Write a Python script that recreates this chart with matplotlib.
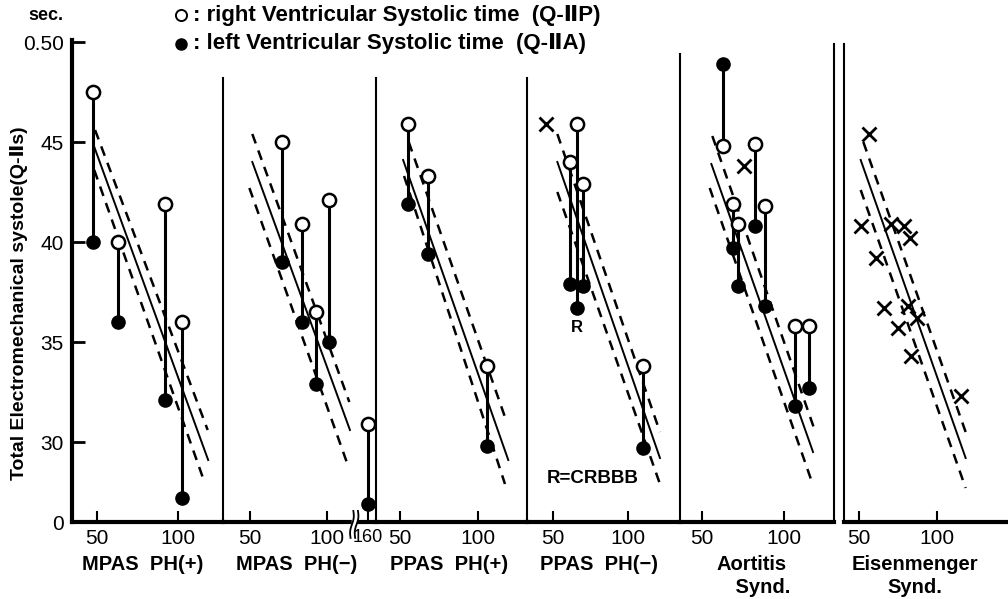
import numpy as np
import matplotlib.pyplot as plt
from matplotlib import transforms, font_manager

W, H = 1008, 599

# ---- values (y in 1/100 sec, x = heart rate) ----
# MPAS PH(+)
mpas_pos_x = [48, 63, 92, 102]
mpas_pos_right = [47.5, 40.0, 41.9, 36.0]
mpas_pos_left = [40.0, 36.0, 32.1, 27.2]
# MPAS PH(-)   (last case at 160, drawn behind the axis break)
mpas_neg_x = [71, 84, 93, 101, 160]
mpas_neg_right = [45.0, 40.9, 36.5, 42.1, 30.9]
mpas_neg_left = [39.0, 36.0, 32.9, 35.0, 26.9]
# PPAS PH(+)
ppas_pos_x = [55, 68, 106]
ppas_pos_right = [45.9, 43.3, 33.8]
ppas_pos_left = [41.9, 39.4, 29.8]
# PPAS PH(-)
ppas_neg_x = [61, 66, 70, 110]
ppas_neg_right = [44.0, 45.9, 42.9, 33.8]
ppas_neg_left = [37.9, 36.7, 37.8, 29.7]
ppas_neg_cross_x = [45]
ppas_neg_cross_y = [45.9]
crbbb_x = 66            # case marked "R"
# Aortitis Synd.
aort_x = [63, 69, 72, 82.5, 88.5, 106.5, 115.5]
aort_right = [44.8, 41.9, 40.9, 44.9, 41.8, 35.8, 35.8]
aort_left = [48.9, 39.7, 37.8, 40.8, 36.8, 31.8, 32.7]
aort_cross_x = [75.5]
aort_cross_y = [43.8]
# Eisenmenger Synd.
eis_x = [56, 51, 70.5, 79, 83, 60.5, 66, 81.5, 87.5, 75, 83.5, 116]
eis_y = [45.4, 40.8, 40.9, 40.8, 40.2, 39.2, 36.7, 36.8, 36.2, 35.7, 34.3, 32.3]

# regression line and its limits, per panel
reg_x = [(48.3, 118.3), (51.5, 114.9), (52, 119.4), (52.7, 121.1), (55.7, 117.7), (50.9, 118.7)]
reg_solid = [(44.8, 29.1), (44.0, 30.6), (44.1, 29.1), (44.0, 29.2), (43.9, 29.5), (44.1, 29.2)]
reg_upper_x = [(49, 118), (51.5, 114.5), (55.6, 118.4), (52.7, 121.1), (56.3, 118.7), (52.6, 118.7)]
reg_upper = [(45.6, 30.6), (45.4, 32.0), (45.0, 31.0), (45.4, 30.5), (45.3, 30.6), (45.0, 30.5)]
reg_lower_x = [(48.5, 116), (49.6, 112.8), (52.6, 117.3), (52.7, 121.1), (54.7, 116.6), (50.9, 118.7)]
reg_lower = [(43.6, 28.0), (42.7, 29.0), (43.3, 27.9), (42.5, 27.9), (42.7, 28.1), (42.6, 27.7)]

group_names = ["MPAS  PH(+)", "MPAS  PH(−)", "PPAS  PH(+)", "PPAS  PH(−)", "Aortitis\n    Synd.", "Eisenmenger\nSynd."]

# ---- layout (pixels of the 1008x599 image) ----
panel_px = [(72, 223, 96.7, 178.3), (223, 376, 250, 327), (376, 527, 400, 478),
            (527, 680, 553.3, 628.3), (680, 834, 702, 784), (844, 1008, 859.3, 936.7)]
sep_top = [48.2, 48.2, 48.2, 49.4, 49.9, 49.9]
label_px = [(143, 564), (297, 564), (449, 564), (599, 564), (752, 576), (915, 576)]
YMIN, YMAX = 26.0, 50.1

installed = {f.name for f in font_manager.fontManager.ttflist}
narrow = ['Liberation Sans Narrow' if 'Liberation Sans Narrow' in installed else 'Liberation Sans',
          'DejaVu Sans']
boldf = ['Liberation Sans', 'DejaVu Sans']


def brk(x):
    # compress the x axis above the break in the MPAS PH(-) panel
    x = np.asarray(x, dtype=float)
    return np.where(x > 130, x - 33.6, x)


def style_ticks(labels, size=15):
    for t in labels:
        t.set_fontfamily(narrow)
        t.set_fontsize(size)
        t.set_fontstretch('condensed')


fig = plt.figure(figsize=(W / 100, H / 100), dpi=100)
axs = []
for i, (l, r, p50, p100) in enumerate(panel_px):
    ax = fig.add_axes([l / W, 1 - 522 / H, (r - l) / W, (522 - 40) / H])
    s = (p100 - p50) / 50
    ax.set_xlim(50 - (p50 - l) / s, 100 + (r - p100) / s)
    ax.set_ylim(YMIN, YMAX)
    ax.patch.set_alpha(0)
    ax.spines['top'].set_visible(False)
    ax.spines['bottom'].set_linewidth(3)
    ax.spines['left'].set_visible(False)
    ax.spines['right'].set_linewidth(1.5)
    ax.spines['right'].set_bounds(YMIN, sep_top[i])
    ax.set_yticks([])
    ax.set_xticks([50, 100])
    ax.set_xticklabels(['50', '100'])
    ax.tick_params(axis='x', direction='in', length=8, width=1.5, pad=5)
    style_ticks(ax.get_xticklabels())
    axs.append(ax)

# y axis on the first panel
ax0 = axs[0]
ax0.spines['left'].set_visible(True)
ax0.spines['left'].set_linewidth(3)
ax0.set_yticks([YMIN, 30, 35, 40, 45, 50])
ax0.set_yticklabels(['0', '30', '35', '40', '45', '0.50'])
ax0.tick_params(axis='y', direction='in', length=9, width=2, pad=6)
style_ticks(ax0.get_yticklabels())
ax0.set_ylabel("Total Electromechanical systole(Q-Ⅱs)", fontsize=14, fontweight='bold',
               family=boldf)
ax0.yaxis.set_label_coords(-0.29, 0.455)

# last panel: left line is its own, no right line
axs[5].spines['right'].set_visible(False)
axs[5].spines['left'].set_visible(True)
axs[5].spines['left'].set_linewidth(1.5)
axs[5].spines['left'].set_bounds(YMIN, sep_top[5])

# break in panel 2 axis
axs[1].set_xticks([50, 100, float(brk(160))])
axs[1].set_xticklabels(['50', '100', '160'])
style_ticks(axs[1].get_xticklabels())
axs[1].get_xticklabels()[2].set_fontsize(13)
bt = transforms.blended_transform_factory(axs[1].transData, axs[1].transAxes)
tt = np.linspace(-1, 1, 30)
for xc in (116.2, 119.2):
    axs[1].plot(xc + 0.9 * tt + 0.7 * np.sin(np.pi * tt), -0.005 + 0.028 * tt, color='black',
                lw=1.3, transform=bt, clip_on=False, zorder=6)
axs[1].fill_between([116.5, 119.0], -0.012, 0.012, color='white', transform=bt, zorder=5,
                    clip_on=False)


def pairs(ax, x, right, left):
    xp = brk(x)
    for xi, a, b in zip(xp, right, left):
        ax.plot([xi, xi], [a, b], color='black', lw=2.2, zorder=3, solid_capstyle='butt')
    ax.plot(xp, left, 'o', ms=9.5, mfc='black', mec='black', zorder=4, clip_on=False)
    ax.plot(xp, right, 'o', ms=9.5, mfc='white', mec='black', mew=1.8, zorder=4, clip_on=False)


def crosses(ax, x, y):
    ax.plot(x, y, 'x', ms=10, mew=2, color='black', zorder=4)


pairs(axs[0], mpas_pos_x, mpas_pos_right, mpas_pos_left)
pairs(axs[1], mpas_neg_x, mpas_neg_right, mpas_neg_left)
pairs(axs[2], ppas_pos_x, ppas_pos_right, ppas_pos_left)
pairs(axs[3], ppas_neg_x, ppas_neg_right, ppas_neg_left)
crosses(axs[3], ppas_neg_cross_x, ppas_neg_cross_y)
pairs(axs[4], aort_x, aort_right, aort_left)
crosses(axs[4], aort_cross_x, aort_cross_y)
crosses(axs[5], eis_x, eis_y)

# regression line with limits
for i, ax in enumerate(axs):
    ax.plot(reg_x[i], reg_solid[i], color='black', lw=1.4, zorder=2)
    ax.plot(reg_upper_x[i], reg_upper[i], color='black', lw=1.8, ls=(0, (4, 3)), zorder=2)
    ax.plot(reg_lower_x[i], reg_lower[i], color='black', lw=1.8, ls=(0, (4, 3)), zorder=2)

# annotations
k = ppas_neg_x.index(crbbb_x)
axs[3].text(crbbb_x, ppas_neg_left[k] - 1.0, "R", ha='center', va='center', fontsize=12,
            fontweight='bold', family=boldf)
axs[3].text(0.43, 0.09, "R=CRBBB", transform=axs[3].transAxes, ha='center', va='center',
            fontsize=13.5, fontweight='bold', family=boldf)

# group names under the panels
for name, (x, y) in zip(group_names, label_px):
    fig.text(x / W, 1 - y / H, name, ha='center', va='center', fontsize=14.5,
             fontweight='bold', family=boldf, linespacing=1.25)

# header / legend
fig.text(46 / W, 1 - 16 / H, "sec.", ha='center', va='center', fontsize=13,
         fontweight='bold', family=boldf)
fig.lines.append(plt.Line2D([181 / W], [1 - 15 / H], marker='o', ms=8, mfc='white', mec='black',
                            mew=1.4, transform=fig.transFigure))
fig.lines.append(plt.Line2D([181 / W], [1 - 44 / H], marker='o', ms=8, mfc='black', mec='black',
                            transform=fig.transFigure))
fig.text(193 / W, 1 - 15 / H, ": right Ventricular Systolic time  (Q-ⅡP)", ha='left', va='center',
         fontsize=16, fontweight='bold', family=boldf)
fig.text(193 / W, 1 - 44 / H, ": left Ventricular Systolic time  (Q-ⅡA)", ha='left', va='center',
         fontsize=16, fontweight='bold', family=boldf)

fig.savefig("out.png", dpi=100)
